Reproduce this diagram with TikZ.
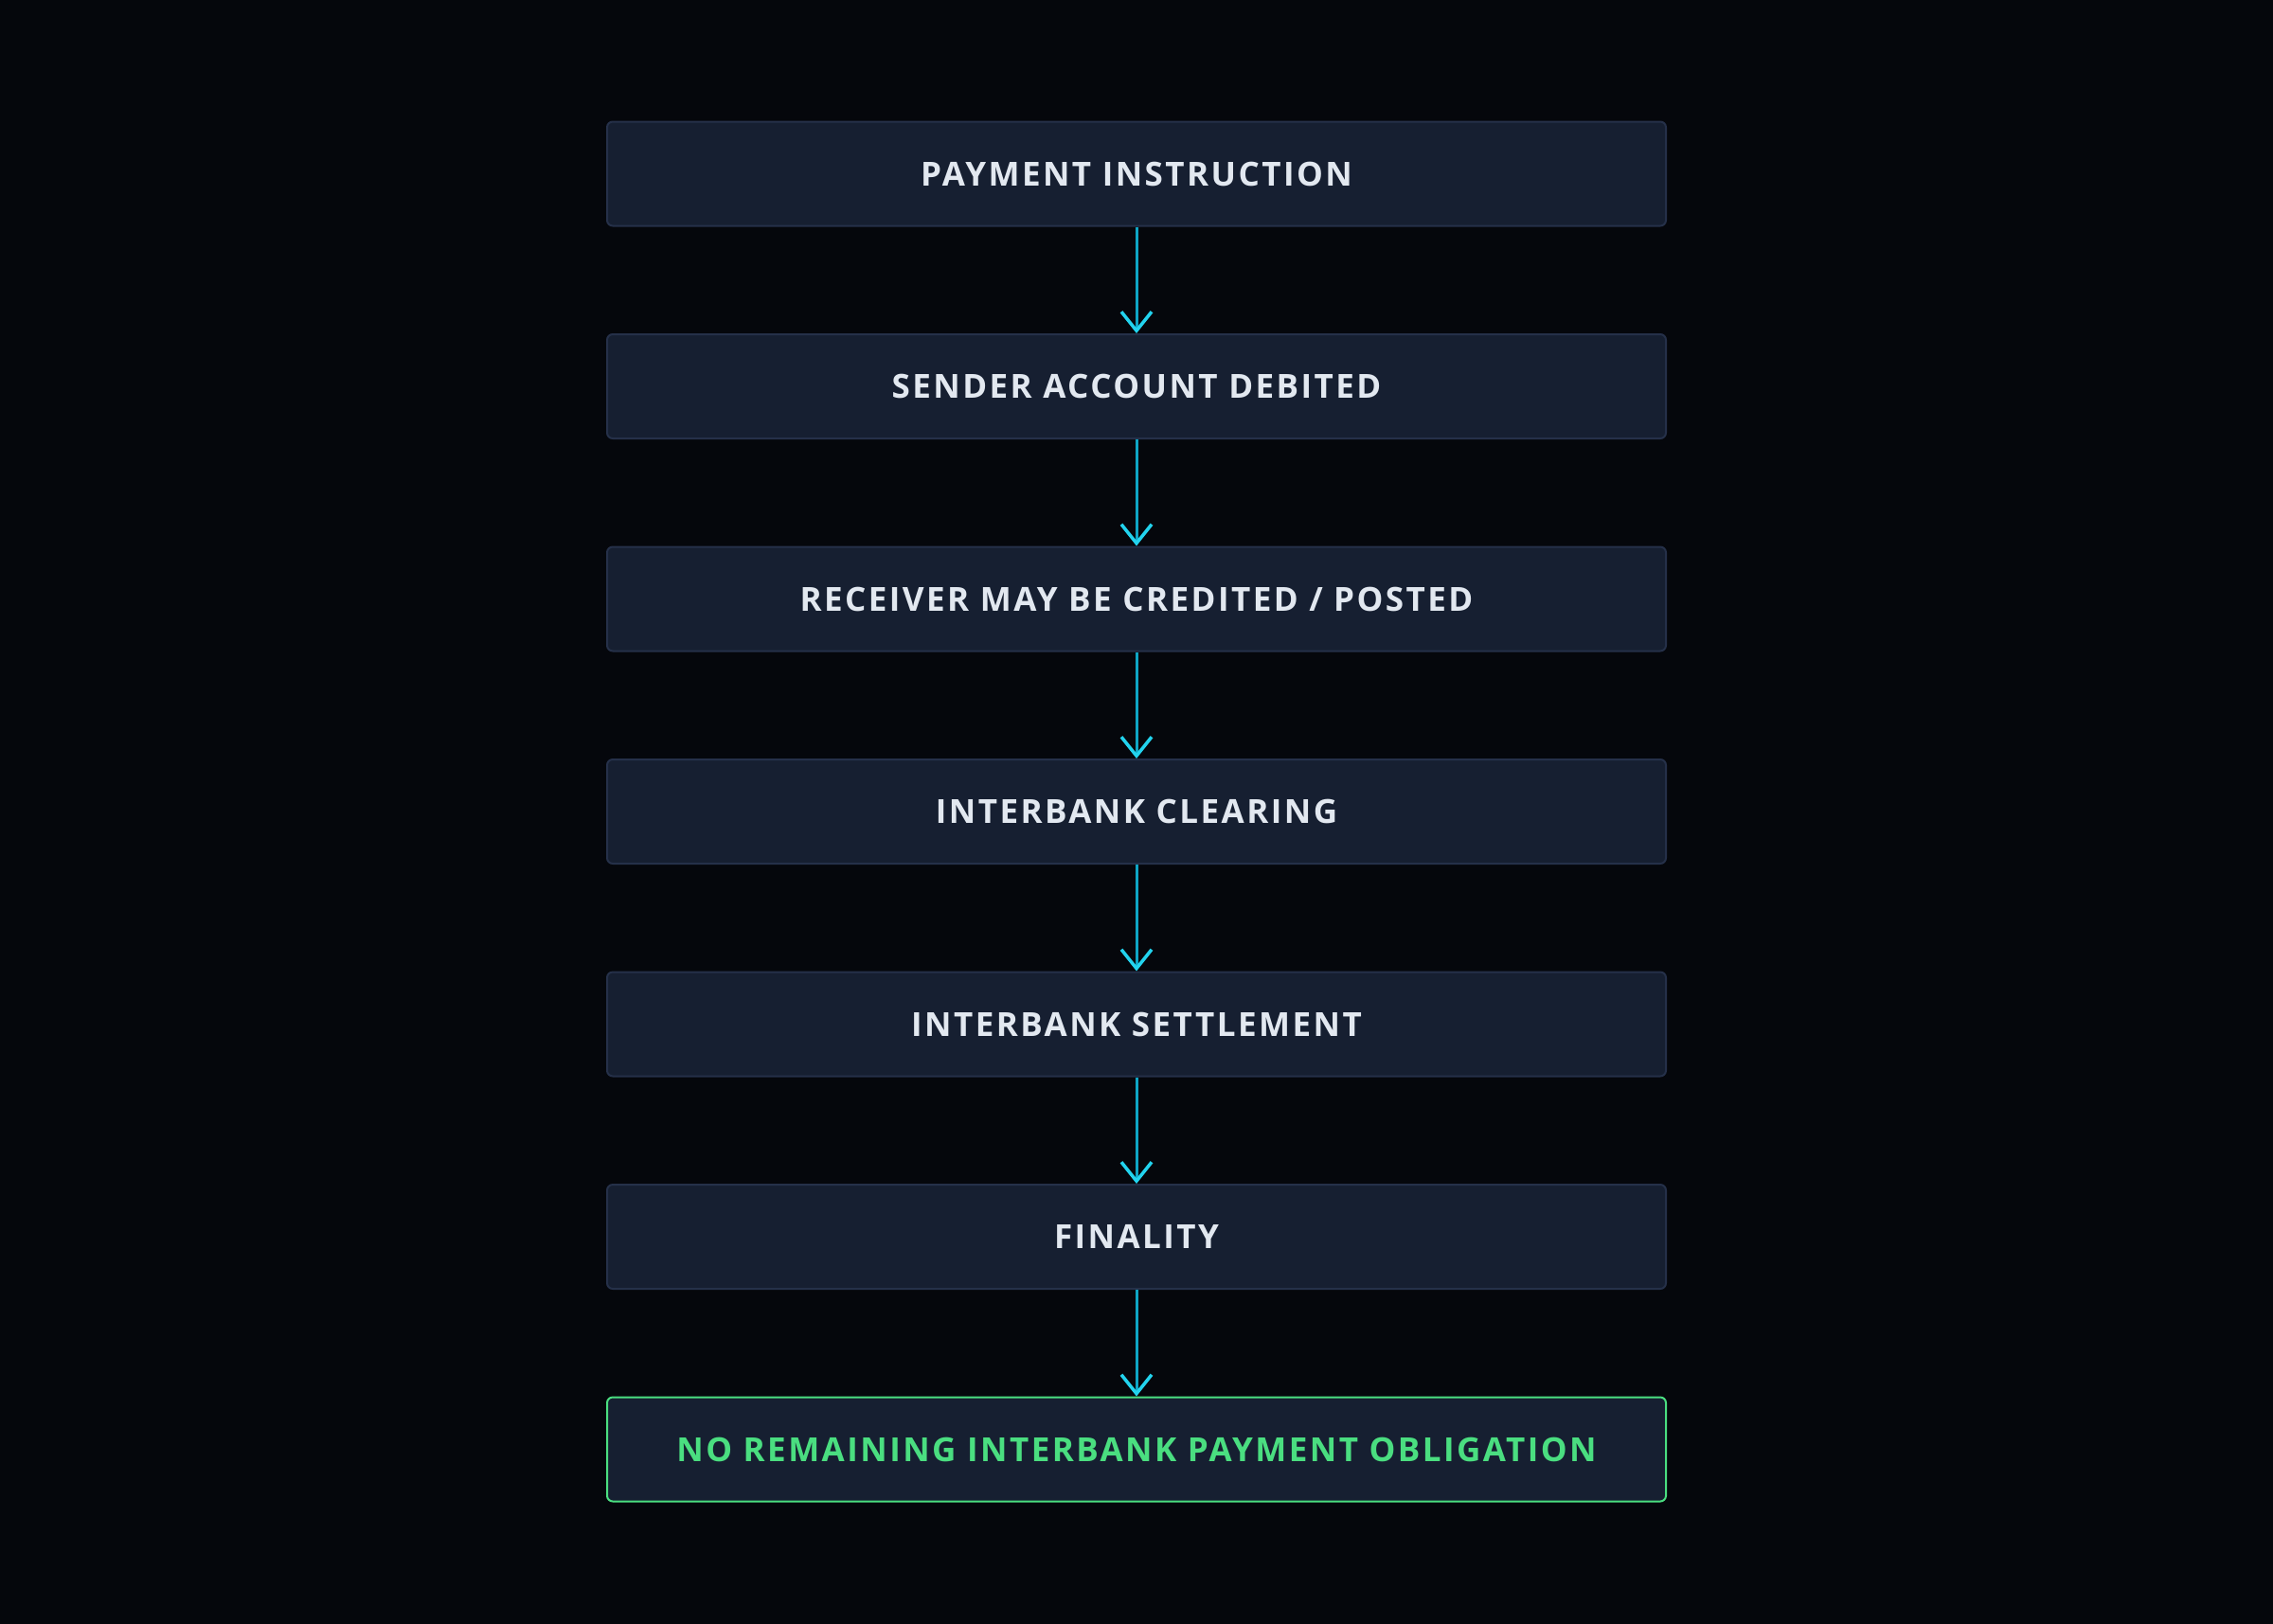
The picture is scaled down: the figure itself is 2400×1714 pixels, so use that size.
\documentclass[tikz,border=0pt]{standalone}
\usepackage{fontspec}
\setmainfont{Open Sans}[LetterSpace=7]
\usetikzlibrary{arrows.meta}
\definecolor{bgc}{HTML}{05070C}
\definecolor{boxfill}{HTML}{161F31}
\definecolor{boxline}{HTML}{253049}
\definecolor{txt}{HTML}{E2E8F0}
\definecolor{green}{HTML}{4ADE80}
\definecolor{linec}{HTML}{0EA5C4}
\definecolor{headc}{HTML}{22D3EE}
\begin{document}
\begin{tikzpicture}[x=1pt,y=1pt,
  stage/.style={draw=boxline, line width=2pt, fill=boxfill, rounded corners=6pt,
    minimum width=1118pt, minimum height=110pt, inner sep=0pt,
    text=txt, font=\fontsize{35}{42}\selectfont\bfseries},
  final/.style={stage, draw=green, text=green},
  flow/.style={draw=linec, line width=3pt,
    -{Straight Barb[length=20pt,width=32pt,line width=3.5pt,color=headc]}}]
\useasboundingbox (0,0) rectangle (2400,-1714);
\fill[bgc] (-10,10) rectangle (2410,-1724);
\node[stage] (s1) at (1200,-183.5) {PAYMENT INSTRUCTION};
\node[stage] (s2) at (1200,-408) {SENDER ACCOUNT DEBITED};
\node[stage] (s3) at (1200,-632.5) {RECEIVER MAY BE CREDITED / POSTED};
\node[stage] (s4) at (1200,-857) {INTERBANK CLEARING};
\node[stage] (s5) at (1200,-1081.5) {INTERBANK SETTLEMENT};
\node[stage] (s6) at (1200,-1306) {FINALITY};
\node[final] (s7) at (1200,-1530.5) {NO REMAINING INTERBANK PAYMENT OBLIGATION};
\foreach \a/\b in {s1/s2,s2/s3,s3/s4,s4/s5,s5/s6,s6/s7}
  \draw[flow] (\a.south) -- (\b.north);
\end{tikzpicture}
\end{document}
